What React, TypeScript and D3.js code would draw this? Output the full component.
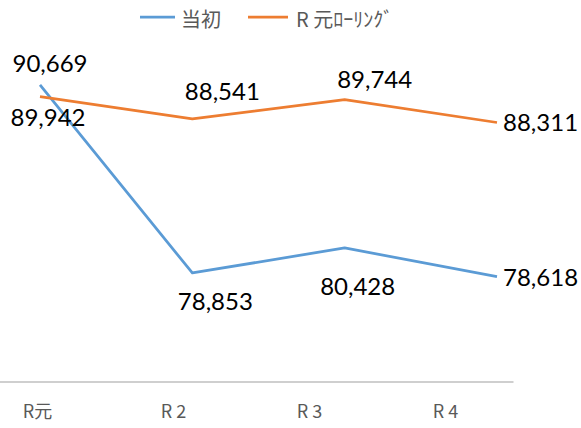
import * as d3 from "d3";

const categories = ["R元", "R 2", "R 3", "R 4"];
const tougai = [90669, 78853, 80428, 78618];
const rolling = [89942, 88541, 89744, 88311];
const seriesNames = ["当初", "R 元ﾛｰﾘﾝｸﾞ"];

const WIDTH = 581;
const HEIGHT = 428;
const colors = ["#5B9BD5", "#ED7D31"];

// label placement relative to each point: [dx, dy, anchor]
const labelOffsets: [number, number, string][][] = [
	[[10, -13, "middle"], [23, 37, "middle"], [13, 47, "middle"], [6, 9, "start"]],
	[[8, 29, "middle"], [30, -19, "middle"], [30, -12, "middle"], [6, 9, "start"]],
];

const fmt = d3.format(",");

export default function App() {
	// line points
	const x = d3.scalePoint<string>().domain(categories).range([40, 497]);
	// category axis bands
	const xAxis = d3.scaleBand<string>().domain(categories).range([-30.5, 513.5]);
	const y = d3.scaleLinear().domain([72000, 92000]).range([382, 63.8]);

	const line = d3
		.line<number>()
		.x((_, i) => x(categories[i]) as number)
		.y((d) => y(d));

	const series = [tougai, rolling];

	return (
		<svg
			width={WIDTH}
			height={HEIGHT}
			style={{ position: "absolute", left: 0, top: 0, background: "#fff" }}
			fontFamily="Lato, 'Noto Sans CJK JP', sans-serif"
		>
			{/* legend */}
			<g fontFamily="'Noto Sans CJK JP', sans-serif" fontSize={20} fill="#595959">
				<line x1={140} x2={175} y1={17} y2={17} stroke={colors[0]} strokeWidth={2.75} />
				<text x={181} y={18} dominantBaseline="central">
					{seriesNames[0]}
				</text>
				<line x1={248} x2={288} y1={17} y2={17} stroke={colors[1]} strokeWidth={2.75} />
				<text x={296} y={18} dominantBaseline="central">
					{seriesNames[1]}
				</text>
			</g>

			{/* x axis */}
			<line
				x1={Math.max(0, xAxis.range()[0])}
				x2={xAxis.range()[1]}
				y1={y(72000)}
				y2={y(72000)}
				stroke="#bfbfbf"
				strokeWidth={1.3}
			/>
			<g fontFamily="'Noto Sans CJK JP', sans-serif" fontSize={18} fill="#595959">
				{categories.map((c) => (
					<text
						key={c}
						x={(xAxis(c) as number) + xAxis.bandwidth() / 2}
						y={418}
						textAnchor="middle"
					>
						{c}
					</text>
				))}
			</g>

			{/* lines */}
			{series.map((s, si) => (
				<path
					key={si}
					d={line(s) as string}
					fill="none"
					stroke={colors[si]}
					strokeWidth={2.75}
					strokeLinejoin="round"
				/>
			))}

			{/* data labels */}
			{series.map((s, si) =>
				s.map((v, i) => {
					const [dx, dy, anchor] = labelOffsets[si][i];
					return (
						<text
							key={`${si}-${i}`}
							x={(x(categories[i]) as number) + dx}
							y={y(v) + dy}
							textAnchor={anchor}
							fontSize={24}
							fill="#000"
						>
							{fmt(v)}
						</text>
					);
				})
			)}
		</svg>
	);
}
